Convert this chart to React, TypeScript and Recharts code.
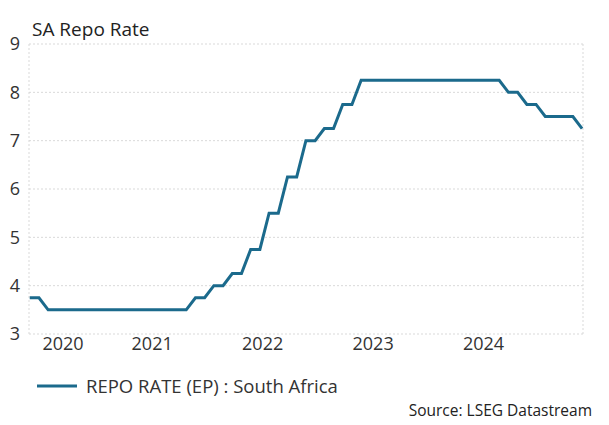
import { LineChart, Line, XAxis, YAxis, CartesianGrid, Legend } from "recharts"

// monthly observations (value as of late in each month)
const months = [
  "2020-05", "2020-06", "2020-07", "2020-08", "2020-09", "2020-10", "2020-11", "2020-12",
  "2021-01", "2021-02", "2021-03", "2021-04", "2021-05", "2021-06",
  "2021-07", "2021-08", "2021-09", "2021-10", "2021-11", "2021-12",
  "2022-01", "2022-02", "2022-03", "2022-04", "2022-05", "2022-06",
  "2022-07", "2022-08", "2022-09", "2022-10", "2022-11", "2022-12",
  "2023-01", "2023-02", "2023-03", "2023-04", "2023-05", "2023-06",
  "2023-07", "2023-08", "2023-09", "2023-10", "2023-11", "2023-12",
  "2024-01", "2024-02", "2024-03", "2024-04", "2024-05", "2024-06",
  "2024-07", "2024-08", "2024-09", "2024-10", "2024-11", "2024-12",
  "2025-01", "2025-02", "2025-03", "2025-04", "2025-05",
]

const repoRate = [
  3.75, 3.75, 3.5, 3.5, 3.5, 3.5, 3.5, 3.5,
  3.5, 3.5, 3.5, 3.5, 3.5, 3.5,
  3.5, 3.5, 3.5, 3.5, 3.75, 3.75,
  4.0, 4.0, 4.25, 4.25, 4.75, 4.75,
  5.5, 5.5, 6.25, 6.25, 7.0, 7.0,
  7.25, 7.25, 7.75, 7.75, 8.25, 8.25,
  8.25, 8.25, 8.25, 8.25, 8.25, 8.25,
  8.25, 8.25, 8.25, 8.25, 8.25, 8.25,
  8.25, 8.25, 8.0, 8.0, 7.75, 7.75,
  7.5, 7.5, 7.5, 7.5, 7.25,
]

const yearStarts = [2021, 2022, 2023, 2024, 2025]
const yearLabels = ["2020", "2021", "2022", "2023", "2024"]
const yTicks = [3, 4, 5, 6, 7, 8, 9]

const LINE_COLOR = "#1b6a8c"
const FONT = "'Segoe UI', 'Open Sans', sans-serif"
const xDomain: [number, number] = [2020.385, 2025.4]

const toYear = (m: string) => {
  const [y, mo] = m.split("-").map(Number)
  return y + (mo - 0.3) / 12
}

const data = months.map((m, i) => ({ t: toYear(m), rate: repoRate[i] }))

// year labels sit in the middle of each visible year
const labelPositions = yearStarts.map((end) => (Math.max(end - 1, xDomain[0]) + end) / 2)

function LegendContent() {
  return (
    <div style={{ display: "flex", alignItems: "center", fontFamily: FONT, fontSize: 18.5, color: "#333" }}>
      <svg width={42} height={6} style={{ marginRight: 8 }}>
        <line x1={1} y1={3} x2={41} y2={3} stroke={LINE_COLOR} strokeWidth={3} />
      </svg>
      <span>REPO RATE (EP) : South Africa</span>
    </div>
  )
}

export default function App() {
  return (
    <div style={{ position: "absolute", left: 0, top: 0, width: 609, height: 425, background: "#fff", fontFamily: FONT }}>
      <div style={{ position: "absolute", left: 32, top: 16, fontSize: 19, color: "#222" }}>SA Repo Rate</div>
      <LineChart
        width={609}
        height={425}
        data={data}
        margin={{ top: 44, right: 26, left: 0, bottom: 36 }}
      >
        <CartesianGrid xAxisId="grid" stroke="#d9d9d9" strokeDasharray="2 2" />
        <XAxis
          xAxisId="grid"
          dataKey="t"
          type="number"
          domain={xDomain}
          ticks={yearStarts}
          tick={false}
          axisLine={false}
          tickLine={false}
          height={0}
        />
        <XAxis
          xAxisId="labels"
          dataKey="t"
          type="number"
          domain={xDomain}
          ticks={labelPositions}
          tickFormatter={(_v, i) => yearLabels[i]}
          axisLine={false}
          tickLine={false}
          tickSize={0}
          tickMargin={3}
          height={30}
          interval={0}
          tick={{ fill: "#333", fontSize: 18, fontFamily: FONT }}
        />
        <YAxis
          domain={[3, 9]}
          ticks={yTicks}
          axisLine={false}
          tickLine={false}
          tickSize={0}
          tickMargin={9}
          width={29}
          interval={0}
          tick={{ fill: "#333", fontSize: 18, fontFamily: FONT }}
        />
        <Legend
          verticalAlign="bottom"
          align="left"
          content={<LegendContent />}
          wrapperStyle={{ left: 36, bottom: 27 }}
        />
        <Line
          xAxisId="grid"
          type="linear"
          dataKey="rate"
          name="REPO RATE (EP) : South Africa"
          stroke={LINE_COLOR}
          strokeWidth={3}
          dot={false}
          isAnimationActive={false}
        />
      </LineChart>
      <div style={{ position: "absolute", right: 17, top: 399, fontSize: 15.5, color: "#222" }}>
        Source: LSEG Datastream
      </div>
    </div>
  )
}
